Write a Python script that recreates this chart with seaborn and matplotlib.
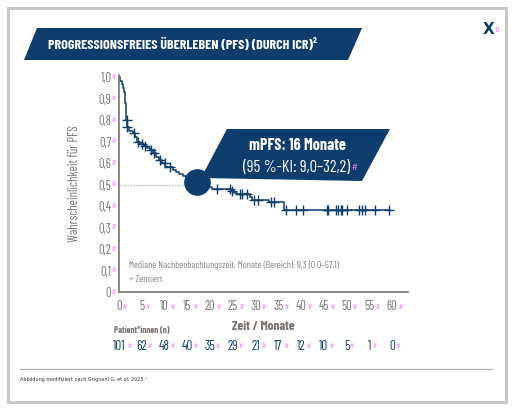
import numpy as np
import pandas as pd
import matplotlib
matplotlib.use("Agg")
import matplotlib.pyplot as plt
import seaborn as sns
from matplotlib.patches import Polygon, Rectangle

# colours
NAVY = "#0c3d6d"
GRAY = "#7b7370"
PINK = "#f57af5"

# Kaplan-Meier steps (months, PFS probability)
step_times = [0, 0.3, 0.6, 0.9, 1.1, 1.3, 1.4, 1.5, 1.55, 1.6, 1.75, 2.3, 3.0, 3.6,
              4.0, 4.6, 5.4, 6.2, 6.8, 7.4, 8.2, 8.8, 9.5, 10.2, 11.8, 12.5, 13.2,
              14.0, 14.8, 16.0, 17.5, 18.6, 19.5, 20.5, 24.6, 25.3, 26.0, 28.7,
              29.3, 33.0, 36.3, 59.5]
step_surv = [1.0, 0.98, 0.97, 0.95, 0.93, 0.91, 0.88, 0.85, 0.82, 0.80, 0.77, 0.75,
             0.74, 0.72, 0.70, 0.69, 0.68, 0.67, 0.66, 0.645, 0.63, 0.615, 0.60,
             0.58, 0.57, 0.56, 0.55, 0.54, 0.53, 0.52, 0.51, 0.50, 0.49, 0.48,
             0.47, 0.46, 0.455, 0.44, 0.43, 0.42, 0.38, 0.38]
censor_times = [1.65, 1.8, 3.3, 4.2, 5.0, 5.7, 7.1, 7.7, 9.0, 10.0, 11.2, 21.6, 24.3,
                24.9, 26.5, 27.1, 28.2, 29.7, 30.5, 33.4, 34.1, 36.7, 38.8, 40.5,
                45.8, 46.0, 47.7, 48.2, 48.7, 49.1, 50.2, 52.7, 53.4, 54.0, 56.2, 59.3]

x_ticks = list(range(0, 61, 5))
y_ticks = [0, 0.1, 0.2, 0.3, 0.4, 0.5, 0.6, 0.7, 0.8, 0.9, 1.0]
y_tick_labels = ["0", "0,1", "0,2", "0,3", "0,4", "0,5", "0,6", "0,7", "0,8", "0,9", "1,0"]
at_risk = [101, 62, 48, 40, 35, 29, 21, 17, 12, 10, 5, 1, 0]
median_mark = (17.2, 0.51)

title = "PROGRESSIONSFREIES ÜBERLEBEN (PFS) (DURCH ICR)²"
callout_1 = "mPFS: 16 Monate"
callout_2 = "(95 %-KI: 9,0–32,2)"
note_1 = "Mediane Nachbeobachtungszeit, Monate (Bereich): 9,3 (0,0–57,1)"
note_2 = "+ Zensiert"
source = "Abbildung modifiziert nach Grignani G, et al. 2025.⁸"

sns.set_style("white")
NARROW = ["Barlow Condensed", "Roboto Condensed", "PT Sans Narrow", "DejaVu Sans"]
plt.rcParams["font.family"] = NARROW

W, H = 514, 418
fig = plt.figure(figsize=(W / 100, H / 100), dpi=100)

# main axes, placed in pixels
x0, x1, y0, y1 = 119, 408, 292, 75
XMAX = 63.5
ax = fig.add_axes([x0 / W, 1 - y0 / H, (x1 - x0) / W, (y0 - y1) / H])

km = pd.DataFrame({"time": step_times, "surv": step_surv})
sns.lineplot(data=km, x="time", y="surv", ax=ax, drawstyle="steps-post",
             estimator=None, sort=False, color=NAVY, linewidth=1.1)

idx = np.searchsorted(step_times, censor_times, side="right") - 1
cens = pd.DataFrame({"time": censor_times, "surv": np.array(step_surv)[idx]})
sns.scatterplot(data=cens, x="time", y="surv", ax=ax, marker="+", s=45,
                color=NAVY, linewidth=1.0, zorder=3)

# dotted median line
ax.plot([0, 15.5], [0.5, 0.5], color="#9a9492", linestyle=(0, (1, 1.5)), linewidth=0.8)
ax.scatter([median_mark[0]], [median_mark[1]], s=330, color=NAVY, zorder=5)

ax.set_xlim(0, XMAX)
ax.set_ylim(0, 1.01)
ax.set_xticks(x_ticks)
ax.set_xticklabels([str(t) for t in x_ticks])
ax.set_yticks(y_ticks)
ax.set_yticklabels(y_tick_labels)
ax.tick_params(axis="x", direction="out", length=3.5, width=1, color=GRAY,
               labelcolor=GRAY, labelsize=9, pad=2)
ax.tick_params(axis="y", direction="out", length=3, width=1, color=GRAY,
               labelcolor=GRAY, labelsize=9, pad=2.5)
for side in ["top", "right"]:
    ax.spines[side].set_visible(False)
for side in ["left", "bottom"]:
    ax.spines[side].set_color(GRAY)
    ax.spines[side].set_linewidth(1.2)
ax.set_xlabel("")
ax.set_ylabel("")
ax.set_facecolor("none")

# little pink edit marks next to the tick labels
for t in x_ticks:
    ax.annotate("#", (t, 0), xytext=(2.2 * len(str(t)) + 0.3, -11), textcoords="offset points",
                color=PINK, fontsize=5, ha="left", va="center")
for v in y_ticks:
    ax.annotate("#", (0, v), xytext=(-2.4, 0), textcoords="offset points",
                color=PINK, fontsize=5, ha="right", va="center")

ax.text(2.2, 0.125, note_1, color="#8a8380", fontsize=7, va="center")
ax.text(2.2, 0.06, note_2, color="#8a8380", fontsize=7, va="center")

# overlay in pixel coordinates for the decorations
ov = fig.add_axes([0, 0, 1, 1])
ov.set_xlim(0, W)
ov.set_ylim(H, 0)
ov.axis("off")
ov.patch.set_alpha(0)

ov.add_patch(Rectangle((8, 8), 498, 394, fill=False, edgecolor="#c8c8c8", linewidth=2.2))
ov.add_patch(Polygon([(37, 28), (362, 28), (348, 60), (24, 60)], closed=True,
                     color=NAVY, linewidth=0))
ov.text(48, 45, title, color="white", fontsize=10.1, fontweight="bold", va="center",
        ha="left")
ov.text(494, 30, "X", color=NAVY, fontsize=11, fontweight="bold", ha="right",
        va="center", family=["DejaVu Sans"])
ov.text(495, 30, "#", color=PINK, fontsize=6, ha="left", va="center")

ov.add_patch(Polygon([(227, 129), (390, 129), (362, 181), (201, 178)], closed=True,
                     color=NAVY, linewidth=0))
ov.text(297, 145, callout_1, color="white", fontsize=11.6, fontweight="bold",
        ha="center", va="center")
ov.text(297, 167, callout_2, color="white", fontsize=12, ha="center", va="center")
ov.text(351, 168, "#", color=PINK, fontsize=7, ha="left", va="center")

ov.text(75, 184, "Wahrscheinlichkeit für PFS", color=GRAY, fontsize=9.2,
        rotation=90, ha="center", va="center")
ov.text(263, 327, "Zeit / Monate", color=GRAY, fontsize=9.5, fontweight="bold",
        ha="center", va="center")
ov.text(114, 331, "Patient*innen (n)", color=GRAY, fontsize=6.4, fontweight="bold",
        ha="left", va="center")

for t, n in zip(x_ticks, at_risk):
    px = x0 + t * (x1 - x0) / XMAX
    ov.text(px, 346, str(n), color=NAVY, fontsize=9.5, ha="center", va="center")
    ov.text(px + 2.7 * len(str(n)) + 0.5, 346, "#", color=PINK, fontsize=5,
            ha="left", va="center")

ov.plot([20, 492], [369, 369], color="#b5b5b5", linewidth=1)
ov.text(20, 380, source, color="#333333", fontsize=3.5, ha="left", va="center",
        family=["DejaVu Sans"])

fig.savefig("out.png", dpi=100)
